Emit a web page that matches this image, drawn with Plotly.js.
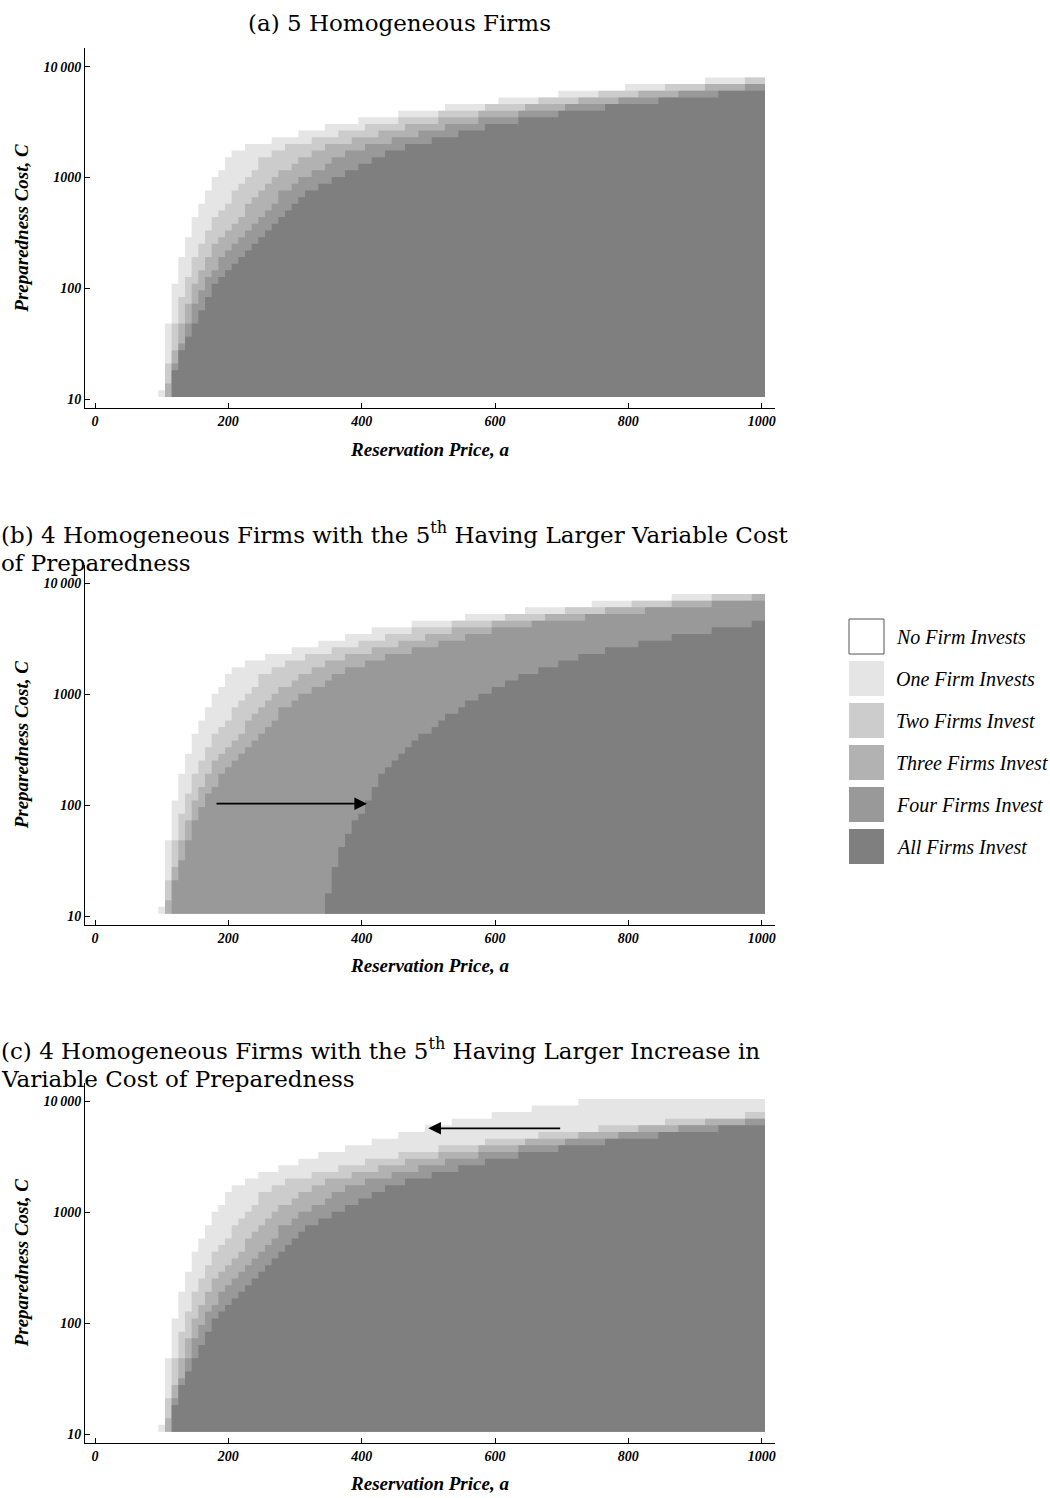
<!DOCTYPE html>
<html>
<head>
<meta charset="utf-8">
<script src="https://cdn.plot.ly/plotly-3.0.1.min.js"></script>
<style>html,body{margin:0;padding:0;background:#fff}</style>
</head>
<body>
<div id="chart" style="width:1050px;height:1498px"></div>
<script>
// ---------------- DATA ----------------
// Each level: step start (reservation price a, grid step 10) and the top preparedness cost C of the region
// "at least k firms invest" in that column. Regions start at the bottom of the grid.
const C_BOTTOM = 10.5;
const A_LAST = 1000;
const A_STEP = 10;

// Panel (a) 5 homogeneous firms
const panelA_one_a   = [100,110,120,130,140,150,160,170,180,190,200,210,230,270,310,350,400,460,530,610,700,800,920];
const panelA_one_c   = [12.1,48.2,110,192,290,440,579,764,1010,1160,1520,1750,2010,2310,2650,3040,3490,4010,4600,5280,6070,6970,8000];
const panelA_two_a   = [110,120,130,140,150,160,170,180,190,200,210,220,230,240,250,270,290,330,370,410,460,520,590,670,760,860,980];
const panelA_two_c   = [21.0,48.2,83.8,127,192,253,333,440,505,579,764,877,1010,1160,1520,1750,2010,2310,2650,3040,3490,4010,4600,5280,6070,6970,8000];
const panelA_three_a = [110,120,130,140,150,160,170,180,190,200,210,220,230,240,250,260,270,280,300,310,330,350,390,430,470,520,580,650,730,820,920];
const panelA_three_c = [13.9,27.7,48.2,72.9,110,146,192,253,290,333,383,440,579,665,764,877,1010,1160,1330,1520,1750,2010,2310,2650,3040,3490,4010,4600,5280,6070,6970];
const panelA_four_a  = [120,130,140,150,160,170,180,190,200,210,220,230,240,250,260,270,280,300,310,330,350,360,380,410,450,490,530,580,640,710,790,880,980];
const panelA_four_c  = [21.0,31.8,48.2,72.9,96.2,127,146,192,220,253,290,333,383,440,505,579,764,877,1010,1160,1330,1520,1750,2010,2310,2650,3040,3490,4010,4600,5280,6070,6970];
const panelA_all_a   = [120,130,140,150,160,170,180,190,200,210,220,230,240,250,260,270,280,290,300,310,320,340,360,380,400,420,440,470,510,550,590,640,700,770,850,940];
const panelA_all_c   = [18.3,27.7,36.6,48.2,63.5,83.8,110,127,146,167,192,220,253,290,333,383,440,505,579,665,764,877,1010,1160,1330,1520,1750,2010,2310,2650,3040,3490,4010,4600,5280,6070];

// Panel (b) 5th firm with larger variable cost
const panelB_one_a   = [100,110,120,130,140,150,160,170,180,190,200,210,230,260,300,340,380,420,480,560,650,750,870];
const panelB_one_c   = [12.1,48.2,110,192,290,440,579,764,1010,1160,1520,1750,2010,2310,2650,3040,3490,4010,4600,5280,6070,6970,8000];
const panelB_two_a   = [110,120,130,140,150,160,170,180,190,200,210,220,230,240,250,270,290,320,360,400,440,480,540,620,710,810,930];
const panelB_two_c   = [21.0,48.2,83.8,127,192,253,333,440,505,579,764,877,1010,1160,1520,1750,2010,2310,2650,3040,3490,4010,4600,5280,6070,6970,8000];
const panelB_three_a = [110,120,130,140,150,160,170,180,190,200,210,220,230,240,250,260,270,280,300,310,330,350,380,420,460,500,540,600,680,770,870,990];
const panelB_three_c = [13.9,27.7,48.2,72.9,110,146,192,253,290,333,383,440,579,665,764,877,1010,1160,1330,1520,1750,2010,2310,2650,3040,3490,4010,4600,5280,6070,6970,8000];
const panelB_four_a  = [120,130,140,150,160,170,180,190,200,210,220,230,240,250,260,270,280,300,310,330,350,360,380,410,440,480,520,560,600,660,740,830,930];
const panelB_four_c  = [21.0,31.8,48.2,72.9,96.2,127,146,192,220,253,290,333,383,440,505,579,764,877,1010,1160,1330,1520,1750,2010,2310,2650,3040,3490,4010,4600,5280,6070,6970];
const panelB_all_a   = [350,360,370,380,390,400,410,420,430,440,450,460,470,480,490,510,520,530,550,560,580,600,620,640,670,700,730,770,820,870,930,990];
const panelB_all_c   = [16.0,27.7,42.0,55.3,72.9,83.8,110,146,192,220,253,290,333,383,440,505,579,665,764,877,1010,1160,1330,1520,1750,2010,2310,2650,3040,3490,4010,4600];

// Panel (c) 5th firm with larger increase in variable cost
const panelC_one_a   = [100,110,120,130,140,150,160,170,180,190,200,210,230,250,280,310,340,380,420,460,500,540,600,660,730];
const panelC_one_c   = [12.1,48.2,110,192,290,440,579,764,1010,1160,1520,1750,2010,2310,2650,3040,3490,4010,4600,5280,6070,6970,8000,9180,10500];
const panelC_two_a   = [110,120,130,140,150,160,170,180,190,200,210,220,230,240,250,270,290,330,370,410,460,520,590,670,760,860,980];
const panelC_two_c   = [21.0,48.2,83.8,127,192,253,333,440,505,579,764,877,1010,1160,1520,1750,2010,2310,2650,3040,3490,4010,4600,5280,6070,6970,8000];
const panelC_three_a = [110,120,130,140,150,160,170,180,190,200,210,220,230,240,250,260,270,280,300,310,330,350,390,430,470,520,580,650,730,820,920];
const panelC_three_c = [13.9,27.7,48.2,72.9,110,146,192,253,290,333,383,440,579,665,764,877,1010,1160,1330,1520,1750,2010,2310,2650,3040,3490,4010,4600,5280,6070,6970];
const panelC_four_a  = [120,130,140,150,160,170,180,190,200,210,220,230,240,250,260,270,280,300,310,330,350,360,380,410,450,490,530,580,640,710,790,880,980];
const panelC_four_c  = [21.0,31.8,48.2,72.9,96.2,127,146,192,220,253,290,333,383,440,505,579,764,877,1010,1160,1330,1520,1750,2010,2310,2650,3040,3490,4010,4600,5280,6070,6970];
const panelC_all_a   = [120,130,140,150,160,170,180,190,200,210,220,230,240,250,260,270,280,290,300,310,320,340,360,380,400,420,440,470,510,550,590,640,700,770,850,940];
const panelC_all_c   = [18.3,27.7,36.6,48.2,63.5,83.8,110,127,146,167,192,220,253,290,333,383,440,505,579,665,764,877,1010,1160,1330,1520,1750,2010,2310,2650,3040,3490,4010,4600,5280,6070];

// Arrows (panel b: from a=180 to a=408 at C≈103; panel c: from a=700 to a=500 at C≈5710)
const arrowB = {fromA:180, toA:408, C:103};
const arrowC = {fromA:700, toA:500, C:5710};

const levelNames  = ['No Firm Invests','One Firm Invests','Two Firms Invest','Three Firms Invest','Four Firms Invest','All Firms Invest'];
const levelColors = ['#e5e5e5','#cccccc','#b2b2b2','#999999','#7f7f7f'];
const xTickVals = [0,200,400,600,800,1000];
const yTickVals = [10,100,1000,10000];
const yTickText = ['10','100','1000','10\u2009000'];

// ---------------- BUILD ----------------
const W = 1050, H = 1498;
const px = v => v / W;
const py = v => 1 - v / H;

function stepPolygon(as, cs) {
  const half = A_STEP / 2;
  const xs = [as[0] - half], ys = [C_BOTTOM];
  for (let i = 0; i < as.length; i++) {
    const x0 = as[i] - half;
    const x1 = (i + 1 < as.length) ? as[i + 1] - half : A_LAST + half;
    xs.push(x0, x1); ys.push(cs[i], cs[i]);
  }
  xs.push(A_LAST + half); ys.push(C_BOTTOM);
  return {xs, ys};
}

const panels = [
  {xa:'x',  ya:'y',  levels:[[panelA_one_a,panelA_one_c],[panelA_two_a,panelA_two_c],[panelA_three_a,panelA_three_c],[panelA_four_a,panelA_four_c],[panelA_all_a,panelA_all_c]]},
  {xa:'x2', ya:'y2', levels:[[panelB_one_a,panelB_one_c],[panelB_two_a,panelB_two_c],[panelB_three_a,panelB_three_c],[panelB_four_a,panelB_four_c],[panelB_all_a,panelB_all_c]]},
  {xa:'x3', ya:'y3', levels:[[panelC_one_a,panelC_one_c],[panelC_two_a,panelC_two_c],[panelC_three_a,panelC_three_c],[panelC_four_a,panelC_four_c],[panelC_all_a,panelC_all_c]]}
];

const traces = [];
panels.forEach(p => {
  p.levels.forEach(([as, cs], i) => {
    const poly = stepPolygon(as, cs);
    traces.push({
      type:'scatter', mode:'lines', x:poly.xs, y:poly.ys,
      xaxis:p.xa, yaxis:p.ya, fill:'toself', fillcolor:levelColors[i],
      line:{width:0, color:levelColors[i]}, hoverinfo:'skip', showlegend:false,
      name:levelNames[i + 1]
    });
  });
});

const serif = 'Liberation Serif, Times New Roman, serif';
const tickFont = {family:serif, size:14, color:'#000', weight:'bold', style:'italic'};
const titleFont = {family:serif, size:19, color:'#000', weight:'bold', style:'italic'};

function xAxis(anchor) {
  return {
    anchor, domain:[px(85), px(775)], range:[-15, 1020],
    tickvals:xTickVals, ticktext:xTickVals.map(String),
    showgrid:false, zeroline:false, showline:true, linecolor:'#000', linewidth:1,
    ticks:'inside', ticklen:5, tickwidth:1, tickcolor:'#000', tickfont:tickFont,
    title:{text:'Reservation Price, a', font:titleFont, standoff:14}
  };
}
function yAxis(anchor, top, bottom) {
  return {
    anchor, type:'log', domain:[py(bottom), py(top)], range:[0.9216, 4.168],
    tickvals:yTickVals, ticktext:yTickText,
    showgrid:false, zeroline:false, showline:true, linecolor:'#000', linewidth:1,
    ticks:'inside', ticklen:5, tickwidth:1, tickcolor:'#000', tickfont:tickFont,
    title:{text:'Preparedness Cost, C', font:titleFont, standoff:9}
  };
}

const capFont = {family:'DejaVu Serif, serif', size:23, color:'#000'};
const cap = (x, y, xanchor, yanchor, text) =>
  ({xref:'paper', yref:'paper', x:px(x), y:py(y), xanchor, yanchor, showarrow:false, borderpad:0, text, font:capFont, align:'left'});
const annotations = [
  cap(399, 23, 'center', 'middle', '(a) 5 Homogeneous Firms'),
  cap(0, 549, 'left', 'bottom', '(b) 4 Homogeneous Firms with the 5<sup>th</sup> Having Larger Variable Cost'),
  cap(0, 549, 'left', 'top', 'of Preparedness'),
  cap(0, 1065, 'left', 'bottom', '(c) 4 Homogeneous Firms with the 5<sup>th</sup> Having Larger Increase in'),
  cap(0, 1065, 'left', 'top', 'Variable Cost of Preparedness'),
  {xref:'x2', yref:'y2', axref:'x2', ayref:'y2', x:arrowB.toA, y:Math.log10(arrowB.C), ax:arrowB.fromA, ay:Math.log10(arrowB.C),
   text:'', showarrow:true, arrowhead:2, arrowsize:1.4, arrowwidth:1.8, arrowcolor:'#000'},
  {xref:'x3', yref:'y3', axref:'x3', ayref:'y3', x:arrowC.toA, y:Math.log10(arrowC.C), ax:arrowC.fromA, ay:Math.log10(arrowC.C),
   text:'', showarrow:true, arrowhead:2, arrowsize:1.4, arrowwidth:1.8, arrowcolor:'#000'}
];

// Legend (swatches + labels)
const shapes = [];
const legendFont = {family:serif, size:20, color:'#000', style:'italic'};
levelNames.forEach((name, i) => {
  const top = 619 + i * 42;
  shapes.push({type:'rect', xref:'paper', yref:'paper', x0:px(849), x1:px(884), y0:py(top + 35), y1:py(top),
    fillcolor: i === 0 ? '#ffffff' : levelColors[i - 1],
    line: i === 0 ? {color:'#555', width:1} : {width:0}});
  annotations.push({xref:'paper', yref:'paper', x:px(894), y:py(top + 18), xanchor:'left', yanchor:'middle',
    showarrow:false, text:name, font:legendFont});
});

const layout = {
  width:W, height:H, margin:{l:0, r:0, t:0, b:0},
  paper_bgcolor:'#fff', plot_bgcolor:'rgba(0,0,0,0)', showlegend:false,
  xaxis:xAxis('y'), yaxis:yAxis('x', 48, 408),
  xaxis2:xAxis('y2'), yaxis2:yAxis('x2', 564.7, 924.7),
  xaxis3:xAxis('y3'), yaxis3:yAxis('x3', 1082.7, 1442.7),
  annotations, shapes
};

Plotly.newPlot('chart', traces, layout, {displayModeBar:false, staticPlot:true});
</script>
</body>
</html>
